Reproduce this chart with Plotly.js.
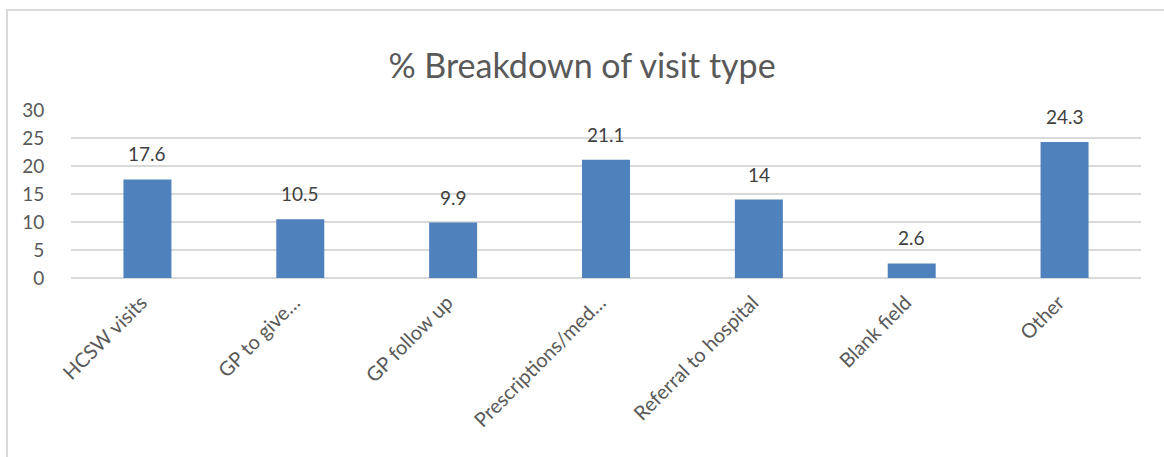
<!DOCTYPE html>
<html>
<head>
<meta charset="utf-8">
<script src="https://cdn.plot.ly/plotly-3.0.1.min.js"></script>
<style>
  html, body { margin: 0; padding: 0; background: #ffffff; overflow: hidden; }
  #chart { position: absolute; left: 0; top: 0; width: 1164px; height: 457px; }
  #frame { position: absolute; left: 6px; top: 9px; width: 1400px; height: 600px;
           border-top: 2px solid #d9d9d9; border-left: 2px solid #d9d9d9;
           pointer-events: none; z-index: 10; }
</style>
</head>
<body>
<div id="chart"></div>
<div id="frame"></div>
<script>
const categories = ["HCSW visits", "GP to give…", "GP follow up", "Prescriptions/med…", "Referral to hospital", "Blank field", "Other"];
const values = [17.6, 10.5, 9.9, 21.1, 14, 2.6, 24.3];
const yTicks = [0, 5, 10, 15, 20, 25, 30];

const FONT = "Lato, 'Open Sans', sans-serif";

const trace = {
  type: "bar",
  x: categories,
  y: values,
  marker: { color: "#4f81bd" },
  hoverinfo: "x+y"
};

const annotations = categories.map((c, i) => ({
  x: c,
  y: values[i],
  xref: "x",
  yref: "y",
  text: String(values[i]),
  showarrow: false,
  yanchor: "bottom",
  yshift: 12,
  font: { family: FONT, size: 19, color: "#404040" }
}));

const layout = {
  width: 1164,
  height: 457,
  margin: { l: 71, r: 23, t: 110, b: 179 },
  paper_bgcolor: "#ffffff",
  plot_bgcolor: "#ffffff",
  bargap: 0.686,
  showlegend: false,
  title: {
    text: "% Breakdown of visit type",
    font: { family: FONT, size: 34, color: "#595959" },
    x: 0.5,
    xanchor: "center",
    xref: "container",
    yref: "container",
    y: 0.855,
    yanchor: "middle"
  },
  xaxis: {
    type: "category",
    tickangle: -45,
    tickfont: { family: FONT, size: 20, color: "#595959" },
    showgrid: false,
    showline: false,
    zeroline: false,
    ticks: "",
    ticklabelstandoff: 8,
    ticklabelshift: -6
  },
  yaxis: {
    range: [0, 30],
    tickvals: yTicks,
    ticktext: yTicks.map(String),
    tickfont: { family: FONT, size: 19, color: "#595959" },
    showgrid: true,
    gridcolor: "#d9d9d9",
    gridwidth: 1.5,
    zeroline: true,
    zerolinecolor: "#d9d9d9",
    zerolinewidth: 1.5,
    showline: false,
    ticks: "outside",
    ticklen: 22,
    tickcolor: "rgba(0,0,0,0)",
    fixedrange: true
  },
  annotations: annotations
};

Plotly.newPlot("chart", [trace], layout, { displayModeBar: false, staticPlot: true });
</script>
</body>
</html>
